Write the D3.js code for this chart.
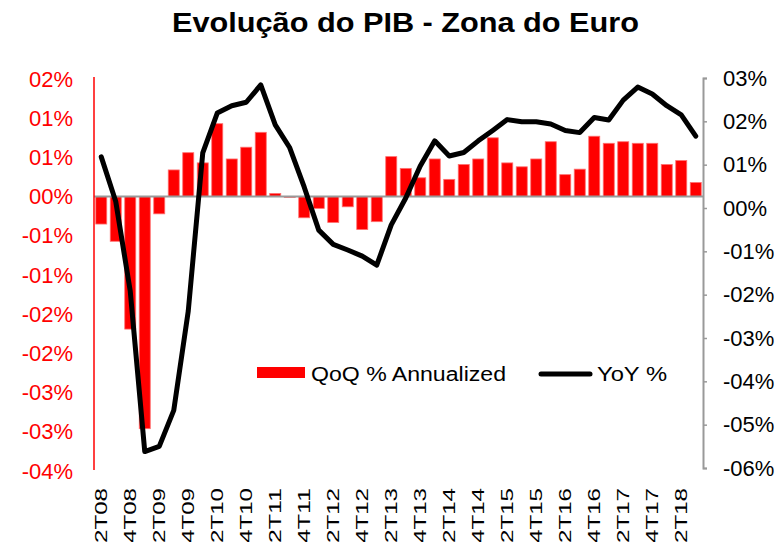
<!DOCTYPE html>
<html>
<head>
<meta charset="utf-8">
<script src="https://cdn.jsdelivr.net/npm/d3@7"></script>
<style>
  body { margin: 0; background: #fff; }
  text { font-family: "Liberation Sans", Arial, sans-serif; }
</style>
</head>
<body>
<script>
// quarters (Portuguese "T" = trimestre)
const quarters = ['2T08','3T08','4T08','1T09','2T09','3T09','4T09','1T10','2T10','3T10','4T10',
  '1T11','2T11','3T11','4T11','1T12','2T12','3T12','4T12','1T13','2T13','3T13','4T13',
  '1T14','2T14','3T14','4T14','1T15','2T15','3T15','4T15','1T16','2T16','3T16','4T16',
  '1T17','2T17','3T17','4T17','1T18','2T18','3T18'];

// QoQ % annualized (left axis)
const qoq = [-0.035, -0.057, -0.169, -0.296, -0.022, 0.034, 0.056, 0.043, 0.093, 0.048, 0.063,
  0.082, 0.004, -0.001, -0.027, -0.015, -0.033, -0.013, -0.042, -0.032, 0.051, 0.036, 0.024,
  0.048, 0.022, 0.041, 0.048, 0.075, 0.043, 0.038, 0.048, 0.070, 0.028, 0.035, 0.077,
  0.068, 0.070, 0.068, 0.068, 0.041, 0.046, 0.018];

// YoY % (right axis)
const yoy = [1.18, 0.15, -1.92, -5.62, -5.5, -4.67, -2.38, 1.27, 2.19, 2.36, 2.44,
  2.84, 1.92, 1.39, 0.48, -0.51, -0.84, -0.97, -1.11, -1.32, -0.39, 0.23, 0.97,
  1.55, 1.2, 1.28, 1.55, 1.79, 2.04, 1.99, 1.99, 1.94, 1.79, 1.74, 2.09,
  2.03, 2.49, 2.79, 2.63, 2.36, 2.15, 1.66];

// tick values and their labels as printed on the chart
const leftTicks = [0.15, 0.10, 0.05, 0, -0.05, -0.10, -0.15, -0.20, -0.25, -0.30, -0.35];
const leftLabels = ['02%','01%','01%','00%','-01%','-01%','-02%','-02%','-03%','-03%','-04%'];
const rightTicks = [3, 2, 1, 0, -1, -2, -3, -4, -5, -6];
const rightLabels = ['03%','02%','01%','00%','-01%','-02%','-03%','-04%','-05%','-06%'];
const xLabels = quarters.filter((q, i) => i % 2 === 0);

const width = 782, height = 542;
const margin = {top: 79, right: 79, bottom: 71, left: 94};

const svg = d3.select('body').append('svg')
  .attr('width', width)
  .attr('height', height);

const xScale = d3.scaleBand()
  .domain(quarters)
  .range([margin.left, 703])
  .paddingInner(0.24)
  .paddingOuter(0.12);

const yLeft = d3.scaleLinear()
  .domain([-0.35, 0.15])
  .range([471, 79]);

const yRight = d3.scaleLinear()
  .domain([-6, 3])
  .range([468, 78]);

// bars
svg.append('g')
  .selectAll('rect')
  .data(qoq)
  .join('rect')
  .attr('x', (d, i) => xScale(quarters[i]))
  .attr('y', d => yLeft(Math.max(0, d)))
  .attr('width', xScale.bandwidth())
  .attr('height', d => Math.abs(yLeft(d) - yLeft(0)))
  .attr('fill', '#ff0000')
  .attr('stroke', '#ff7070')
  .attr('stroke-width', 0.8);

// zero line
svg.append('line')
  .attr('x1', margin.left).attr('x2', 703)
  .attr('y1', yLeft(0)).attr('y2', yLeft(0))
  .attr('stroke', '#999')
  .attr('stroke-width', 2);

// left axis (red, no tick marks)
const leftAxis = d3.axisLeft(yLeft)
  .tickValues(leftTicks)
  .tickFormat((d, i) => leftLabels[i])
  .tickSize(0)
  .tickPadding(21);

svg.append('g')
  .attr('transform', `translate(${margin.left},0)`)
  .call(leftAxis)
  .call(g => g.select('.domain').attr('stroke', '#ff0000').attr('stroke-width', 1.5).attr('d', 'M0,77V470'))
  .call(g => g.selectAll('text')
    .attr('fill', '#ff0000')
    .attr('font-size', 22)
    .attr('font-family', '"Liberation Sans", Arial, sans-serif'));

// right axis (gray)
const rightAxis = d3.axisRight(yRight)
  .tickValues(rightTicks)
  .tickFormat((d, i) => rightLabels[i])
  .tickSize(4)
  .tickSizeOuter(4)
  .tickPadding(16);

svg.append('g')
  .attr('transform', 'translate(703,0)')
  .call(rightAxis)
  .call(g => g.select('.domain').attr('stroke', '#999').attr('stroke-width', 2))
  .call(g => g.selectAll('.tick line').attr('stroke', '#999').attr('stroke-width', 1.5))
  .call(g => g.selectAll('text')
    .attr('fill', '#000')
    .attr('font-size', 22)
    .attr('font-family', '"Liberation Sans", Arial, sans-serif'));

// x labels, rotated
svg.append('g')
  .selectAll('text')
  .data(xLabels)
  .join('text')
  .attr('transform', d => `translate(${xScale(d) + xScale.bandwidth() / 2},488) rotate(-90)`)
  .attr('text-anchor', 'end')
  .attr('dy', '0.36em')
  .attr('font-size', 17)
  .attr('textLength', 55)
  .attr('lengthAdjust', 'spacingAndGlyphs')
  .attr('fill', '#000')
  .text(d => d);

// YoY line
const line = d3.line()
  .x((d, i) => xScale(quarters[i]) + xScale.bandwidth() / 2)
  .y(d => yRight(d));

svg.append('path')
  .datum(yoy)
  .attr('d', line)
  .attr('fill', 'none')
  .attr('stroke', '#000')
  .attr('stroke-width', 5)
  .attr('stroke-linejoin', 'round')
  .attr('stroke-linecap', 'round');

// legend
const legend = svg.append('g');
legend.append('rect')
  .attr('x', 257).attr('y', 367)
  .attr('width', 48).attr('height', 11)
  .attr('fill', '#ff0000');
legend.append('text')
  .attr('x', 311).attr('y', 381)
  .attr('font-size', 20)
  .attr('textLength', 195)
  .attr('lengthAdjust', 'spacingAndGlyphs')
  .text('QoQ % Annualized');
legend.append('line')
  .attr('x1', 541).attr('x2', 590)
  .attr('y1', 374).attr('y2', 374)
  .attr('stroke', '#000')
  .attr('stroke-width', 5)
  .attr('stroke-linecap', 'round');
legend.append('text')
  .attr('x', 597).attr('y', 381)
  .attr('font-size', 20)
  .attr('textLength', 70)
  .attr('lengthAdjust', 'spacingAndGlyphs')
  .text('YoY %');

// title
svg.append('text')
  .attr('x', 172)
  .attr('y', 32)
  .attr('font-size', 28)
  .attr('font-weight', 'bold')
  .attr('textLength', 467)
  .attr('lengthAdjust', 'spacingAndGlyphs')
  .attr('fill', '#000')
  .text('Evolução do PIB - Zona do Euro');
</script>
</body>
</html>
